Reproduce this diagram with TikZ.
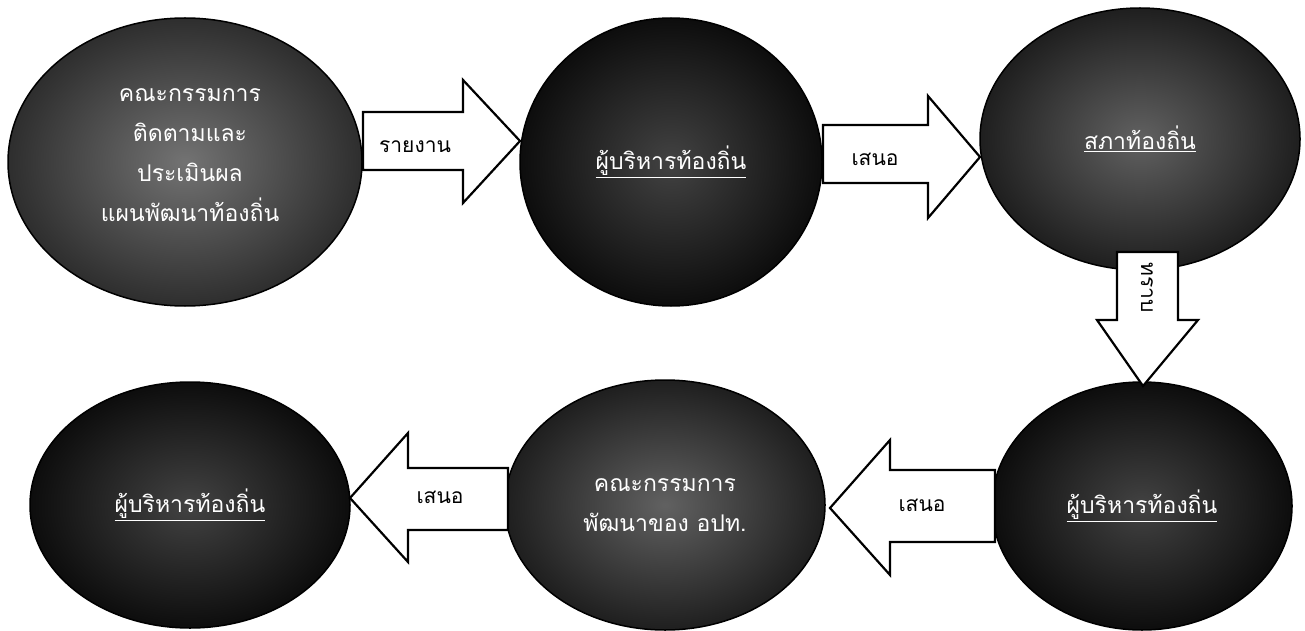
\documentclass[tikz,border=0pt]{standalone}
\usepackage{fontspec}
\newfontfamily\thai[Script=Thai]{Loma}
\usetikzlibrary{shapes.geometric}
\begin{document}
\begin{tikzpicture}[x=1pt,y=-1pt,
  circ/.style={ellipse, draw=black, line width=1.5pt, text=white, align=center,
    font=\thai\fontsize{23}{40}\selectfont, inner sep=0pt},
  light/.style={inner color=black!55, outer color=black!82},
  mid/.style={inner color=black!62, outer color=black!88},
  dark/.style={inner color=black!74, outer color=black!95},
  barrow/.style={draw=black, line width=2.2pt, fill=white, line join=miter},
  lbl/.style={font=\thai\fontsize{21}{24}\selectfont, text=black, inner sep=0pt}]
\useasboundingbox (0,0) rectangle (1305,631);
% circles
\node[circ, light, minimum width=354pt, minimum height=288pt] (c1) at (185,162) {};
\node[text=white, align=center, font=\thai\fontsize{23}{40}\selectfont] (t1) at (190,155)
  {คณะกรรมการ\\ติดตามและ\\ประเมินผล\\แผนพัฒนาท้องถิ่น};
\node[circ, dark, minimum width=302pt, minimum height=288pt] (c2) at (671,162)
  {\underline{ผู้บริหารท้องถิ่น}};
\node[circ, mid, minimum width=320pt, minimum height=262pt] (c3) at (1140,139)
  {\underline{สภาท้องถิ่น}};
\node[circ, dark, minimum width=300pt, minimum height=248pt] (c4) at (1142,506)
  {\underline{ผู้บริหารท้องถิ่น}};
\node[circ, mid, minimum width=320pt, minimum height=250pt] (c5) at (665,505)
  {คณะกรรมการ\\พัฒนาของ อปท.};
\node[circ, dark, minimum width=320pt, minimum height=246pt] (c6) at (190,505)
  {\underline{ผู้บริหารท้องถิ่น}};
% block arrows
\draw[barrow] (363,112) -- (463,112) -- (463,80) -- (520,141) -- (463,203) -- (463,170) -- (363,170) -- cycle;
\draw[barrow] (823,125) -- (928,125) -- (928,96) -- (980,157) -- (928,218) -- (928,183) -- (823,183) -- cycle;
\draw[barrow] (1117,252) -- (1117,320) -- (1097,320) -- (1143,386) -- (1198,320) -- (1178,320) -- (1178,252) -- cycle;
\draw[barrow] (995,470) -- (890,470) -- (890,440) -- (830,508) -- (890,575) -- (890,542) -- (995,542) -- cycle;
\draw[barrow] (508,468) -- (408,468) -- (408,433) -- (350,498) -- (408,562) -- (408,530) -- (508,530) -- cycle;
% labels
\node[lbl] (l1) at (415,147) {รายงาน};
\node[lbl] (l2) at (875,159) {เสนอ};
\node[lbl, rotate=-90] (l3) at (1147,288) {ทราบ};
\node[lbl] (l4) at (922,505) {เสนอ};
\node[lbl] (l5) at (440,497) {เสนอ};
\end{tikzpicture}
\end{document}
